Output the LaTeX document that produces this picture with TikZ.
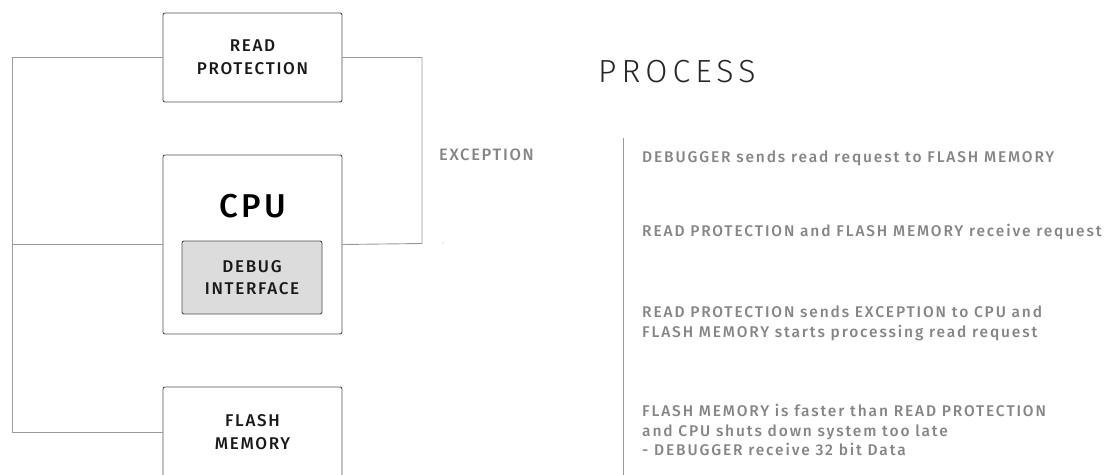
\documentclass[tikz,border=0pt]{standalone}
\usepackage{fontspec}
\setmainfont{Fira Sans}[BoldFont={Fira Sans Medium}]
\newfontfamily\lightfont{Fira Sans Light}[LetterSpace=16]
\newfontfamily\trackfont{Fira Sans Medium}[LetterSpace=10]
\newfontfamily\notefont{Fira Sans Medium}[LetterSpace=12]
\definecolor{wire}{HTML}{9A9A9A}
\definecolor{edge}{HTML}{505050}
\definecolor{note}{HTML}{858585}
\definecolor{panel}{HTML}{DCDCDC}
\tikzset{
  unitbox/.style={draw=edge, line width=0.9pt, rounded corners=2pt, fill=white,
    minimum width=179pt, align=center, inner sep=0pt, font=\trackfont\fontsize{17}{23}\selectfont, text=black!90},
  subbox/.style={unitbox, fill=panel, minimum width=140pt, minimum height=73pt},
  bus/.style={draw=wire, line width=0.9pt},
  stepnote/.style={anchor=west, align=left, text=note, inner sep=0pt,
    font=\notefont\fontsize{15.5}{19.5}\selectfont}
}
\begin{document}
\begin{tikzpicture}[x=1pt, y=-1pt]
\useasboundingbox (0,0) rectangle (1118,474);
\clip (0,0) rectangle (1118,474);

% hardware blocks
\node[unitbox, minimum height=89pt] (rp) at (252.5,57.5) {READ\\PROTECTION};
\node[unitbox, minimum height=179pt] (cpu) at (252.5,244.5) {};
\node[font=\trackfont\fontsize{33}{36}\selectfont, text=black, inner sep=0pt] (cpulabel) at (252.5,206) {CPU};
\node[subbox, font=\trackfont\fontsize{17}{22}\selectfont] (dbg) at (252,277.5) {DEBUG\\INTERFACE};
\node[unitbox, minimum height=90pt] (flash) at (252.5,432) {FLASH\\MEMORY};

% shared bus on the left
\coordinate (lt) at (12,57.5);
\coordinate (lm) at (12,244.5);
\coordinate (lb) at (12,432);
\draw[bus] (rp.west) -- (lt) -- (lb) -- (flash.west);
\draw[bus] (lm) -- (cpu.west);

% exception path on the right
\coordinate (rt) at (422,57.5);
\coordinate (rb) at (422,243.5);
\draw[bus] (rp.east) -- (rt) -- (rb) -- (cpu.east);
\node[anchor=west, inner sep=0pt, text=note, font=\trackfont\fontsize{16.5}{18}\selectfont] (exc) at (439,155) {EXCEPTION};
\fill[note!60] (443,243) circle (0.6pt);

% process description
\node[anchor=west, inner sep=0pt, text=black!85, font=\lightfont\fontsize{32}{34}\selectfont] (title) at (598,72) {PROCESS};
\coordinate (vt) at (623,138);
\coordinate (vb) at (623,480);
\draw[bus] (vt) -- (vb);

\node[stepnote] (s1) at (642,158) {DEBUGGER sends read request to FLASH MEMORY};
\node[stepnote] (s2) at (642,232) {READ PROTECTION and FLASH MEMORY receive request};
\node[stepnote] (s3) at (642,323.5) {READ PROTECTION sends EXCEPTION to CPU and\\FLASH MEMORY starts processing read request};
\node[stepnote] (s4) at (642,430) {FLASH MEMORY is faster than READ PROTECTION\\and CPU shuts down system too late\\- DEBUGGER receive 32 bit Data};
\end{tikzpicture}
\end{document}
